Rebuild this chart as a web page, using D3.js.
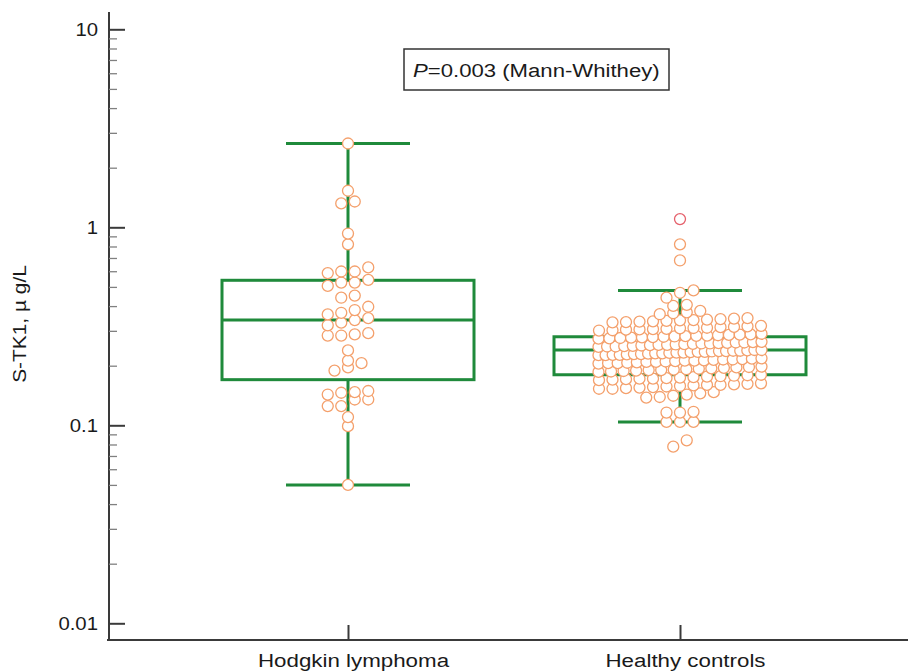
<!DOCTYPE html>
<html>
<head>
<meta charset="utf-8">
<script src="https://cdn.jsdelivr.net/npm/d3@7"></script>
<style>
  body { margin: 0; background: #fff; }
  svg text { font-family: "Liberation Sans", Arial, sans-serif; fill: #1a1a1a; }
</style>
</head>
<body>
<svg id="chart" width="908" height="672"></svg>
<script>
// Groups on the x axis
const categories = ["Hodgkin lymphoma", "Healthy controls"];

// S-TK1 values (µg/L), one per subject
const hodgkinValues = [
  2.65, 1.53, 1.32, 1.35, 0.93, 0.82,
  0.587, 0.598, 0.598, 0.627,
  0.506, 0.526, 0.526, 0.543,
  0.441, 0.452,
  0.363, 0.370, 0.382, 0.397,
  0.320, 0.330, 0.340, 0.348,
  0.284, 0.284, 0.288, 0.292,
  0.239, 0.212,
  0.189, 0.196, 0.206,
  0.143, 0.146, 0.147, 0.149,
  0.125, 0.125, 0.135, 0.135,
  0.110, 0.099, 0.050
];

const healthyValues = [
  0.078, 0.084,
  0.104, 0.104, 0.104,
  0.116, 0.116, 0.117,
  0.138, 0.139, 0.141, 0.143, 0.145, 0.147,
  0.153, 0.153, 0.154, 0.155, 0.156, 0.157, 0.158, 0.159, 0.160, 0.160, 0.161, 0.162, 0.163,
  0.169, 0.170, 0.171, 0.172, 0.172, 0.173, 0.174, 0.175, 0.176, 0.177, 0.178, 0.179, 0.180,
  0.186, 0.187, 0.188, 0.189, 0.190, 0.190, 0.191, 0.192, 0.193, 0.194, 0.195, 0.196, 0.197, 0.198,
  0.205, 0.206, 0.206, 0.207, 0.208, 0.209, 0.209, 0.210, 0.211, 0.212, 0.212, 0.213, 0.214, 0.215, 0.215, 0.216, 0.217, 0.218,
  0.226, 0.226, 0.227, 0.227, 0.228, 0.229, 0.229, 0.230, 0.231, 0.231, 0.232, 0.233, 0.233, 0.234, 0.235, 0.235, 0.236, 0.237, 0.237, 0.238, 0.238, 0.239, 0.240, 0.240,
  0.249, 0.250, 0.250, 0.251, 0.252, 0.253, 0.254, 0.255, 0.255, 0.256, 0.257, 0.258, 0.259, 0.259, 0.260, 0.261, 0.262, 0.262, 0.263, 0.264,
  0.274, 0.275, 0.276, 0.277, 0.278, 0.279, 0.280, 0.281, 0.282, 0.283, 0.284, 0.285, 0.286, 0.287, 0.288, 0.290,
  0.301, 0.302, 0.304, 0.305, 0.306, 0.307, 0.309, 0.310, 0.311, 0.313, 0.314, 0.316, 0.318,
  0.331, 0.332, 0.334, 0.335, 0.337, 0.339, 0.340, 0.342, 0.344, 0.346, 0.348,
  0.364, 0.368, 0.372, 0.378,
  0.401, 0.406,
  0.441, 0.467, 0.480,
  0.68, 0.82
];
// Far-out control value, marked separately
const healthyOutliers = [1.10];

// Box plot summaries: [lower whisker, Q1, median, Q3, upper whisker]
const hodgkinBox = [0.050, 0.17, 0.34, 0.54, 2.65];
const healthyBox = [0.104, 0.18, 0.24, 0.28, 0.48];

// Y axis ticks
const yTickValues = [10, 1, 0.1, 0.01];
const yTickLabels = ["10", "1", "0.1", "0.01"];
const yMinorTicks = [0.02, 0.03, 0.04, 0.05, 0.06, 0.07, 0.08, 0.09,
                     0.2, 0.3, 0.4, 0.5, 0.6, 0.7, 0.8, 0.9,
                     2, 3, 4, 5, 6, 7, 8, 9];

const pText = "=0.003 (Mann-Whithey)";
const yTitle = "S-TK1, \u00b5 g/L";

// ---------------------------------------------------------------------------
const GREEN = "#1f8a3b";
const ORANGE = "#f4a06c";
const RED = "#e5616c";
const AXIS = "#3a3a3a";

const svg = d3.select("#chart");

const y = d3.scaleLog().domain([0.01, 10]).range([623.3, 29.3]);
const x = d3.scalePoint().domain(categories).range([348, 680]);

// widen glyphs horizontally by factor k
function stretch(sel, k) {
  sel.each(function () {
    const w = this.getComputedTextLength();
    this.setAttribute("textLength", (w * k).toFixed(1));
    this.setAttribute("lengthAdjust", "spacingAndGlyphs");
  });
}

// Axis frame
const axisX0 = 109;
svg.append("line")
  .attr("x1", axisX0).attr("x2", axisX0)
  .attr("y1", 12).attr("y2", 641)
  .attr("stroke", AXIS).attr("stroke-width", 2);
svg.append("line")
  .attr("x1", 107).attr("x2", 908)
  .attr("y1", 640).attr("y2", 640)
  .attr("stroke", AXIS).attr("stroke-width", 2);

// Minor ticks
const gMinor = svg.append("g").attr("transform", `translate(${axisX0},0)`)
  .call(d3.axisLeft(y).tickValues(yMinorTicks).tickSize(-8).tickFormat(""));
gMinor.select(".domain").remove();
gMinor.selectAll(".tick line").attr("stroke", "#808080").attr("stroke-width", 1.3);

// Major ticks and labels
const gY = svg.append("g").attr("transform", `translate(${axisX0},0)`)
  .call(d3.axisLeft(y).tickValues(yTickValues).tickSize(-16).tickPadding(11)
    .tickFormat((d, i) => yTickLabels[i]));
gY.select(".domain").remove();
gY.selectAll(".tick line").attr("stroke", AXIS).attr("stroke-width", 2);
gY.selectAll(".tick text").attr("font-size", 18).attr("fill", "#1a1a1a")
  .style("font-family", '"Liberation Sans", Arial, sans-serif');
stretch(gY.selectAll(".tick text"), 1.13);

// X axis ticks and category labels
const gX = svg.append("g").attr("transform", "translate(0,640)")
  .call(d3.axisBottom(x).tickSize(-15).tickPadding(14));
gX.select(".domain").remove();
gX.selectAll(".tick line").attr("stroke", AXIS).attr("stroke-width", 2);
gX.selectAll(".tick text").attr("font-size", 18).attr("dx", 5).attr("fill", "#1a1a1a")
  .style("font-family", '"Liberation Sans", Arial, sans-serif');
stretch(gX.selectAll(".tick text"), 1.24);

// Y axis title
const yt = svg.append("text")
  .attr("transform", "translate(26,324) rotate(-90)")
  .attr("text-anchor", "middle")
  .attr("font-size", 18)
  .text(yTitle);
stretch(yt, 1.16);

// P value box
svg.append("rect")
  .attr("x", 404).attr("y", 49).attr("width", 265).attr("height", 41)
  .attr("fill", "#fff").attr("stroke", "#333").attr("stroke-width", 1.5);
const pt = svg.append("text").attr("x", 413).attr("y", 77).attr("font-size", 18);
pt.append("tspan").attr("font-style", "italic").text("P");
pt.append("tspan").text(pText);
stretch(pt, 1.23);

// Box plots
const boxHalf = 126, capHalf = 62;
const boxes = [
  { cat: categories[0], s: hodgkinBox },
  { cat: categories[1], s: healthyBox }
];
const gBox = svg.append("g")
  .attr("fill", "none").attr("stroke", GREEN).attr("stroke-width", 3);
boxes.forEach(b => {
  const cx = x(b.cat), s = b.s;
  gBox.append("line").attr("x1", cx).attr("x2", cx).attr("y1", y(s[0])).attr("y2", y(s[1]));
  gBox.append("line").attr("x1", cx).attr("x2", cx).attr("y1", y(s[3])).attr("y2", y(s[4]));
  gBox.append("line").attr("x1", cx - capHalf).attr("x2", cx + capHalf).attr("y1", y(s[0])).attr("y2", y(s[0]));
  gBox.append("line").attr("x1", cx - capHalf).attr("x2", cx + capHalf).attr("y1", y(s[4])).attr("y2", y(s[4]));
  gBox.append("rect").attr("x", cx - boxHalf).attr("width", boxHalf * 2)
    .attr("y", y(s[3])).attr("height", y(s[1]) - y(s[3]));
  gBox.append("line").attr("x1", cx - boxHalf).attr("x2", cx + boxHalf).attr("y1", y(s[2])).attr("y2", y(s[2]));
});

// Dot layout: values are grouped bottom-up into rows (a row collects points
// within rowGap px of its lowest point); each row is laid out left-to-right in
// ascending order, centred on the group, spacing shrinking for crowded rows.
function dotLayout(values, cx, rowGap = 8, step = 13.5, maxSpan = 163) {
  const pts = values.map(v => ({ v, py: y(v) })).sort((a, b) => b.py - a.py);
  const rows = [];
  let row = null;
  pts.forEach(p => {
    if (!row || row.startY - p.py > rowGap) {
      row = { startY: p.py, pts: [] };
      rows.push(row);
    }
    row.pts.push(p);
  });
  rows.forEach(r => {
    r.pts.sort((a, b) => a.v - b.v);
    const n = r.pts.length;
    const s = n > 1 ? Math.min(step, maxSpan / (n - 1)) : 0;
    r.pts.forEach((p, i) => { p.px = cx + (i - (n - 1) / 2) * s; });
  });
  return pts;
}

const R = 5.5;
const gDots = svg.append("g");
const hPts = dotLayout(hodgkinValues, x(categories[0]));
const cPts = dotLayout(healthyValues.concat(healthyOutliers), x(categories[1]));

gDots.selectAll("circle.h").data(hPts).join("circle")
  .attr("class", "h")
  .attr("cx", d => d.px).attr("cy", d => d.py).attr("r", R)
  .attr("fill", "#fff").attr("stroke", ORANGE).attr("stroke-width", 1.3);

gDots.selectAll("circle.c").data(cPts).join("circle")
  .attr("class", "c")
  .attr("cx", d => d.px).attr("cy", d => d.py).attr("r", R)
  .attr("fill", "#fff")
  .attr("stroke", d => healthyOutliers.includes(d.v) ? RED : ORANGE)
  .attr("stroke-width", 1.3);
</script>
</body>
</html>
